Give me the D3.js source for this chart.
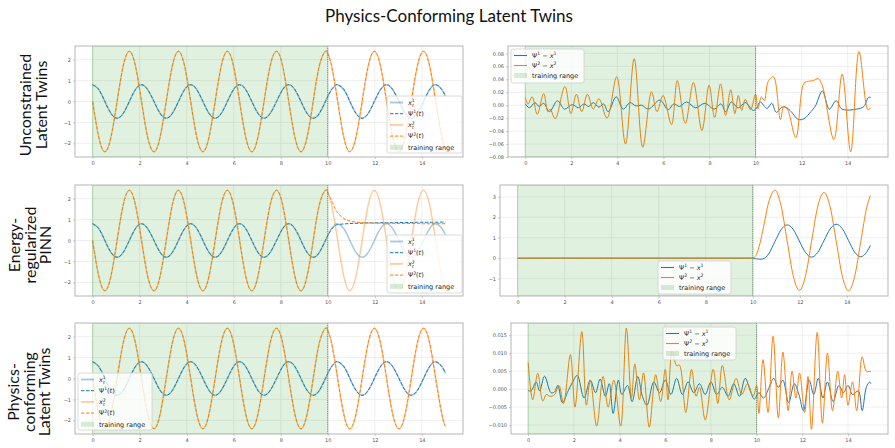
<!DOCTYPE html>
<html>
<head>
<meta charset="utf-8">
<script src="https://cdn.jsdelivr.net/npm/d3@7"></script>
<style>
  body { margin: 0; background: #fff; }
  svg { display: block; }
  .tick text { font-family: "DejaVu Sans", sans-serif; font-size: 5px; fill: #555; }
</style>
</head>
<body>
<div id="chart"></div>
<script>
// time grid (extrema / zero crossings, plus a few points around t = 10)
const tGrid = [0, 0.26, 0.52, 0.78, 1.04, 1.30, 1.56, 1.82, 2.08, 2.34, 2.61, 2.87, 3.13, 3.39, 3.65,
  3.91, 4.17, 4.43, 4.69, 4.95, 5.21, 5.47, 5.73, 5.99, 6.25, 6.51, 6.77, 7.03, 7.29, 7.55, 7.82,
  8.08, 8.34, 8.60, 8.86, 9.12, 9.38, 9.64, 9.90, 10.00, 10.05, 10.10, 10.16, 10.30, 10.42, 10.68,
  10.94, 11.20, 11.46, 11.72, 11.98, 12.24, 12.50, 12.76, 13.03, 13.29, 13.55, 13.81, 14.07, 14.33,
  14.59, 14.85, 15.00];

// ground truth x^1, x^2
const x1True = [0.8, 0.57, 0, -0.57, -0.8, -0.57, 0, 0.57, 0.8, 0.57, 0, -0.57, -0.8, -0.57, 0, 0.57,
  0.8, 0.57, 0, -0.57, -0.8, -0.57, 0, 0.57, 0.8, 0.57, 0, -0.57, -0.8, -0.57, 0, 0.57,
  0.8, 0.57, 0, -0.57, -0.8, -0.57, 0,
  0.24, 0.35, 0.455, 0.57, 0.75, 0.8, 0.57, 0, -0.57, -0.8, -0.57, 0, 0.57, 0.8, 0.57, 0, -0.57,
  -0.8, -0.57, 0, 0.57, 0.8, 0.57, 0.26];
const x2True = [0, -1.7, -2.4, -1.7, 0, 1.7, 2.4, 1.7, 0, -1.7, -2.4, -1.7, 0, 1.7, 2.4, 1.7,
  0, -1.7, -2.4, -1.7, 0, 1.7, 2.4, 1.7, 0, -1.7, -2.4, -1.7, 0, 1.7, 2.4, 1.7,
  0, -1.7, -2.4, -1.7, 0, 1.7, 2.4,
  2.29, 2.16, 1.97, 1.7, 0.85, 0, -1.7, -2.4, -1.7, 0, 1.7, 2.4, 1.7, 0, -1.7, -2.4, -1.7,
  0, 1.7, 2.4, 1.7, 0, -1.7, -2.27];

// energy-regularized PINN prediction from t = 10 on (before 10 it sits on the truth)
const pinnPsi1 = [0.24, 0.34, 0.43, 0.54, 0.70, 0.76, 0.79, 0.81, 0.82, 0.83, 0.84, 0.84, 0.85,
  0.85, 0.85, 0.86, 0.86, 0.86, 0.87, 0.87, 0.87, 0.87, 0.88, 0.88];
const pinnPsi2 = [2.29, 2.18, 2.06, 1.90, 1.55, 1.32, 1.05, 0.93, 0.88, 0.85, 0.84, 0.83, 0.82,
  0.82, 0.82, 0.81, 0.81, 0.81, 0.81, 0.80, 0.80, 0.80, 0.80, 0.80];

// unconstrained latent twins: errors [t, value]
const ucErr1 = [[0, 0.002], [0.18, -0.004], [0.42, 0.004], [0.6, -0.002], [0.8, 0.003], [1.05, -0.01],
  [1.4, 0.007], [1.7, -0.006], [2.05, 0.001], [2.3, -0.004], [2.55, 0.002], [2.75, -0.002], [2.95, 0.004],
  [3.2, -0.003], [3.4, 0.002], [3.6, -0.01], [3.95, 0.013], [4.25, -0.006], [4.55, 0.004], [4.8, -0.001],
  [5.05, 0], [5.35, -0.006], [5.85, 0.008], [6.2, -0.007], [6.45, 0.002], [6.7, -0.002], [7.0, 0.005],
  [7.4, -0.004], [7.8, 0.003], [8.2, -0.006], [8.5, 0.002], [8.7, -0.01], [8.95, 0.005], [9.25, -0.004],
  [9.55, 0.004], [9.9, -0.008], [10.05, -0.004], [10.2, 0.005], [10.5, -0.005], [10.7, 0.003],
  [10.9, -0.011], [11.15, -0.003], [11.35, -0.004], [11.55, -0.01], [11.85, -0.022], [12.1, -0.021],
  [12.4, -0.01], [12.6, -0.001], [12.9, 0.022], [13.2, -0.006], [13.5, 0.007], [13.75, -0.006],
  [14.4, -0.006], [14.7, -0.002], [14.9, 0.012], [15, 0.012]];
const ucErr2 = [[0, 0.012], [0.12, 0.002], [0.3, 0.013], [0.52, -0.014], [0.8, 0.018], [0.98, -0.01],
  [1.08, -0.006], [1.3, -0.021], [1.72, 0.029], [1.98, -0.013], [2.22, 0.017], [2.45, -0.01],
  [2.7, 0.017], [2.95, -0.006], [3.2, 0.01], [3.55, -0.02], [3.97, 0.044], [4.35, -0.06], [4.73, 0.072],
  [5.1, -0.065], [5.48, 0.021], [5.72, -0.01], [5.98, 0.015], [6.35, -0.03], [6.6, 0.038],
  [6.95, -0.028], [7.3, 0.035], [7.67, -0.039], [7.98, 0.031], [8.22, -0.019], [8.48, 0.033],
  [8.7, -0.016], [8.92, 0.024], [9.1, -0.013], [9.25, 0.015], [9.4, -0.008], [9.55, 0.009],
  [9.78, -0.007], [10.0, 0.017], [10.1, -0.006], [10.25, 0.013], [10.38, 0.007], [10.55, 0.037],
  [10.78, 0.044], [11.08, -0.022], [11.22, -0.002], [11.38, -0.006], [11.75, -0.05], [12.1, 0.034],
  [12.3, 0.037], [12.5, 0.038], [12.72, 0.041], [12.9, 0.03], [13.4, -0.053], [13.76, 0.048],
  [14.13, -0.072], [14.49, 0.083], [14.88, -0.007], [15, -0.004]];

// physics-conforming latent twins: errors [t, value]
const pcErr1 = [[0, -0.0003], [0.12, -0.0006], [0.35, 0.002], [0.5, -0.0005], [0.72, 0.0036],
  [1.0, -0.001], [1.15, -0.0008], [1.3, 0.001], [1.5, -0.0038], [1.75, -0.0005], [1.95, 0.002],
  [2.15, 0.0038], [2.45, -0.0025], [2.72, 0.0025], [2.95, -0.001], [3.15, 0.0028], [3.38, -0.002],
  [3.55, 0.0015], [3.72, -0.0068], [3.95, 0.0025], [4.1, -0.0015], [4.35, 0.001], [4.55, -0.0035],
  [4.8, 0.0035], [5.0, -0.002], [5.2, -0.0045], [5.5, 0.002], [5.75, -0.001], [6.0, 0.0025],
  [6.25, -0.0015], [6.5, 0.003], [6.75, -0.0015], [7.0, 0.002], [7.25, -0.001], [7.5, 0.0015],
  [7.75, -0.0015], [8.0, 0.002], [8.25, -0.0015], [8.5, 0.0005], [8.75, -0.002], [9.0, 0.0015],
  [9.25, -0.002], [9.5, 0.003], [9.75, -0.001], [9.9, -0.0028], [10.1, -0.001], [10.3, -0.0025],
  [10.55, 0.0005], [10.75, 0.003], [10.95, 0.0005], [11.15, 0.0025], [11.4, -0.0038], [11.65, 0.0015],
  [11.85, -0.0015], [12.05, -0.006], [12.3, 0.0025], [12.5, -0.0015], [12.7, 0.003], [12.9, -0.0025],
  [13.1, 0.002], [13.35, -0.0035], [13.6, 0.001], [13.8, -0.001], [14.0, 0.001], [14.2, -0.0015],
  [14.45, -0.0005], [14.62, -0.006], [14.8, 0.0005], [14.95, 0.002], [15, 0.0015]];
const pcErr2 = [[0, 0.0074], [0.2, -0.003], [0.42, 0.0044], [0.64, -0.0033], [0.8, -0.0015],
  [0.95, -0.002], [1.15, -0.0016], [1.35, 0.001], [1.55, -0.004], [1.85, 0.0096], [2.05, -0.005],
  [2.35, 0.016], [2.55, -0.0045], [2.72, 0.0025], [3.0, -0.0103], [3.28, 0.0035], [3.5, -0.005],
  [3.75, 0.0025], [4.05, -0.0103], [4.3, 0.017], [4.52, -0.0025], [4.67, 0.007], [4.87, -0.003],
  [5.05, 0.0045], [5.3, -0.0106], [5.58, 0.004], [5.8, -0.0035], [6.0, 0.0055], [6.12, -0.003],
  [6.3, 0.0105], [6.5, 0.0065], [6.62, 0.0067], [6.9, -0.0065], [7.15, 0.0055], [7.35, -0.002],
  [7.5, 0.0005], [7.75, -0.0086], [8.1, 0.0055], [8.3, -0.004], [8.5, 0.0066], [8.8, -0.003],
  [9.1, 0.003], [9.35, -0.0015], [9.6, 0.0015], [9.85, -0.002], [10.0, 0.001], [10.1, -0.0068],
  [10.28, 0.0082], [10.5, -0.0065], [10.72, 0.0147], [10.95, -0.008], [11.15, 0.0103], [11.38, -0.006],
  [11.55, 0.005], [11.72, -0.0025], [11.88, 0.0045], [12.1, -0.0065], [12.25, 0.0035], [12.4, -0.0112],
  [12.65, 0.0158], [12.88, -0.0095], [13.1, 0.01], [13.32, -0.006], [13.55, 0.005], [13.72, -0.0025],
  [13.85, 0.004], [14.0, -0.0045], [14.2, 0.002], [14.38, -0.006], [14.62, 0.009], [14.8, 0.005],
  [15, 0.005]];

const xTicks = [0, 2, 4, 6, 8, 10, 12, 14];
const leftYTicks = [-2, -1, 0, 1, 2];
const ucYTicks = [-0.08, -0.06, -0.04, -0.02, 0, 0.02, 0.04, 0.06, 0.08];
const pinnYTicks = [-1, 0, 1, 2, 3];
const pcYTicks = [-0.01, -0.005, 0, 0.005, 0.01, 0.015];

const BLUE = "#1f77b4", ORANGE = "#ff7f0e", GREEN = "#2ca02c";
const W = 895, H = 448;

const svg = d3.select("#chart").append("svg").attr("width", W).attr("height", H);
svg.append("rect").attr("width", W).attr("height", H).attr("fill", "#fff");

svg.append("text")
  .attr("x", 449).attr("y", 22)
  .attr("text-anchor", "middle")
  .style("font-family", "Lato, sans-serif")
  .style("font-size", "17px")
  .attr("fill", "#111")
  .text("Physics-Conforming Latent Twins");

// row titles
const rowLabels = [
  { cx: 31, cy: 105, lines: ["Unconstrained", "Latent Twins"] },
  { cx: 20, cy: 245, lines: ["Energy-", "regularized", "PINN"] },
  { cx: 19, cy: 392, lines: ["Physics-", "conforming", "Latent Twins"] }
];
rowLabels.forEach(r => {
  const t = svg.append("g").attr("transform", "translate(" + r.cx + "," + r.cy + ") rotate(-90)");
  r.lines.forEach((s, i) => {
    t.append("text").attr("x", 0).attr("y", i * 15.7)
      .attr("text-anchor", "middle")
      .style("font-family", "Lato, sans-serif")
      .style("font-size", "16px")
      .attr("fill", "#111")
      .text(s);
  });
});

let clipCount = 0;
function makePanel(x0, x1, y0, y1, yDomain, yTicks) {
  const w = x1 - x0, h = y1 - y0;
  const g = svg.append("g").attr("transform", "translate(" + x0 + "," + y0 + ")");
  const x = d3.scaleLinear().domain([-0.75, 15.75]).range([0, w]);
  const y = d3.scaleLinear().domain(yDomain).range([h, 0]);

  g.append("g").selectAll("line").data(xTicks).join("line")
    .attr("x1", d => x(d)).attr("x2", d => x(d)).attr("y1", 0).attr("y2", h)
    .attr("stroke", "#ebebeb").attr("stroke-width", 0.8);
  g.append("g").selectAll("line").data(yTicks).join("line")
    .attr("y1", d => y(d)).attr("y2", d => y(d)).attr("x1", 0).attr("x2", w)
    .attr("stroke", "#ebebeb").attr("stroke-width", 0.8);

  const id = "clip" + clipCount++;
  g.append("clipPath").attr("id", id).append("rect").attr("width", w).attr("height", h);
  const plot = g.append("g").attr("clip-path", "url(#" + id + ")");
  return { g, plot, x, y, w, h, yTicks };
}

function finishPanel(p, fmt) {
  // training range on top of the curves
  p.plot.append("rect")
    .attr("x", p.x(0)).attr("y", 0)
    .attr("width", p.x(10) - p.x(0)).attr("height", p.h)
    .attr("fill", GREEN).attr("fill-opacity", 0.15)
    .attr("stroke", GREEN).attr("stroke-opacity", 0.3).attr("stroke-width", 1);
  p.g.append("line")
    .attr("x1", p.x(10)).attr("x2", p.x(10)).attr("y1", 0).attr("y2", p.h)
    .attr("stroke", "#555").attr("stroke-width", 0.7).attr("stroke-dasharray", "0.8,1.4");
  p.g.append("rect").attr("width", p.w).attr("height", p.h)
    .attr("fill", "none").attr("stroke", "#b5b5b5").attr("stroke-width", 1);

  p.g.append("g").attr("transform", "translate(0," + p.h + ")")
    .call(d3.axisBottom(p.x).tickValues(xTicks).tickSize(2).tickPadding(2).tickFormat(d3.format("d")))
    .call(a => a.select(".domain").remove())
    .call(a => a.selectAll(".tick line").attr("stroke", "#aaa").attr("stroke-width", 0.6));
  p.g.append("g")
    .call(d3.axisLeft(p.y).tickValues(p.yTicks).tickSize(2).tickPadding(2).tickFormat(d3.format(fmt)))
    .call(a => a.select(".domain").remove())
    .call(a => a.selectAll(".tick line").attr("stroke", "#aaa").attr("stroke-width", 0.6));
}

const iTrain = tGrid.indexOf(10);
const truth1 = tGrid.map((t, i) => [t, x1True[i]]);
const truth2 = tGrid.map((t, i) => [t, x2True[i]]);
const pinn1 = tGrid.map((t, i) => [t, i < iTrain ? x1True[i] : pinnPsi1[i - iTrain]]);
const pinn2 = tGrid.map((t, i) => [t, i < iTrain ? x2True[i] : pinnPsi2[i - iTrain]]);

function drawStates(p, psi1, psi2) {
  const ln = d3.line().x(d => p.x(d[0])).y(d => p.y(d[1])).curve(d3.curveNatural);
  p.plot.append("path").datum(truth1).attr("d", ln)
    .attr("fill", "none").attr("stroke", BLUE).attr("stroke-width", 1.5).attr("stroke-opacity", 0.4);
  p.plot.append("path").datum(psi1).attr("d", ln)
    .attr("fill", "none").attr("stroke", BLUE).attr("stroke-width", 1).attr("stroke-dasharray", "3.5,1.5");
  p.plot.append("path").datum(truth2).attr("d", ln)
    .attr("fill", "none").attr("stroke", ORANGE).attr("stroke-width", 1.5).attr("stroke-opacity", 0.4);
  p.plot.append("path").datum(psi2).attr("d", ln)
    .attr("fill", "none").attr("stroke", ORANGE).attr("stroke-width", 1).attr("stroke-dasharray", "3.5,1.5");
}

function drawErrors(p, e1, e2, curve) {
  const ln = d3.line().x(d => p.x(d[0])).y(d => p.y(d[1])).curve(curve);
  p.plot.append("path").datum(e1).attr("d", ln)
    .attr("fill", "none").attr("stroke", BLUE).attr("stroke-width", 1);
  p.plot.append("path").datum(e2).attr("d", ln)
    .attr("fill", "none").attr("stroke", ORANGE).attr("stroke-width", 1);
}

const rows = [[46, 157], [185, 296], [323, 434]];
const leftDomain = [-2.65, 2.65];
const smooth = d3.curveCatmullRom.alpha(0.5);

// row 1
const l1 = makePanel(75, 463, rows[0][0], rows[0][1], leftDomain, leftYTicks);
drawStates(l1, truth1, truth2); // predictions follow the truth to within a line width
finishPanel(l1, "d");
const r1 = makePanel(508, 888, rows[0][0], rows[0][1], [-0.08, 0.0915], ucYTicks);
drawErrors(r1, ucErr1, ucErr2, smooth);
finishPanel(r1, ".2f");

// row 2
const l2 = makePanel(75, 463, rows[1][0], rows[1][1], leftDomain, leftYTicks);
drawStates(l2, pinn1, pinn2);
finishPanel(l2, "d");
const r2 = makePanel(500, 888, rows[1][0], rows[1][1], [-1.85, 3.58], pinnYTicks);
drawErrors(r2,
  tGrid.map((t, i) => [t, pinn1[i][1] - x1True[i]]),
  tGrid.map((t, i) => [t, pinn2[i][1] - x2True[i]]),
  d3.curveMonotoneX);
finishPanel(r2, "d");

// row 3
const l3 = makePanel(75, 463, rows[2][0], rows[2][1], leftDomain, leftYTicks);
drawStates(l3, truth1, truth2);
finishPanel(l3, "d");
const r3 = makePanel(511, 888, rows[2][0], rows[2][1], [-0.0125, 0.0184], pcYTicks);
drawErrors(r3, pcErr1, pcErr2, smooth);
finishPanel(r3, ".3f");

// legends
const FS = 6.5, SS = 4.6;
function richText(sel, segs) {
  let shift = 0;
  segs.forEach(s => {
    const target = s.sup ? -2.6 : s.sub ? 1.8 : 0;
    const ts = sel.append("tspan").text(s.t)
      .attr("dy", target - shift)
      .style("font-size", (s.sup || s.sub ? SS : FS) + "px");
    if (s.it) ts.style("font-style", "italic");
    if (s.dx) ts.attr("dx", s.dx);
    shift = target;
  });
}
const labX1 = [{ t: "x", it: 1 }, { t: "1", sup: 1 }, { t: "t", it: 1, sub: 1, dx: -2.9 }];
const labX2 = [{ t: "x", it: 1 }, { t: "2", sup: 1 }, { t: "t", it: 1, sub: 1, dx: -2.9 }];
const labP1 = [{ t: "Ψ" }, { t: "1", sup: 1 }, { t: "(" }, { t: "t", it: 1 }, { t: ")" }];
const labP2 = [{ t: "Ψ" }, { t: "2", sup: 1 }, { t: "(" }, { t: "t", it: 1 }, { t: ")" }];
const labE1 = [{ t: "Ψ" }, { t: "1", sup: 1 }, { t: " − " }, { t: "x", it: 1 }, { t: "1", sup: 1 }];
const labE2 = [{ t: "Ψ" }, { t: "2", sup: 1 }, { t: " − " }, { t: "x", it: 1 }, { t: "2", sup: 1 }];
const labTR = [{ t: "training range" }];

const stateItems = [
  { kind: "light", color: BLUE, lab: labX1 },
  { kind: "dash", color: BLUE, lab: labP1 },
  { kind: "light", color: ORANGE, lab: labX2 },
  { kind: "dash", color: ORANGE, lab: labP2 },
  { kind: "patch", color: GREEN, lab: labTR }
];
const errItems = [
  { kind: "solid", color: BLUE, lab: labE1 },
  { kind: "solid", color: ORANGE, lab: labE2 },
  { kind: "patch", color: GREEN, lab: labTR }
];

function legend(x0, y0, w, h, items, step) {
  const g = svg.append("g").attr("transform", "translate(" + x0 + "," + y0 + ")");
  g.append("rect").attr("width", w).attr("height", h).attr("rx", 2)
    .attr("fill", "#fff").attr("fill-opacity", 0.8)
    .attr("stroke", "#d0d0d0").attr("stroke-width", 0.8);
  items.forEach((it, i) => {
    const cy = 6.5 + i * step;
    if (it.kind === "patch") {
      g.append("rect").attr("x", 3).attr("y", cy - 2.5).attr("width", 13).attr("height", 5)
        .attr("fill", it.color).attr("fill-opacity", 0.2);
    } else {
      const l = g.append("line").attr("x1", 3).attr("x2", 16).attr("y1", cy).attr("y2", cy)
        .attr("stroke", it.color);
      if (it.kind === "light") l.attr("stroke-width", 1.8).attr("stroke-opacity", 0.4);
      if (it.kind === "dash") l.attr("stroke-width", 1).attr("stroke-dasharray", "3.5,1.5");
      if (it.kind === "solid") l.attr("stroke-width", 1.1);
    }
    const t = g.append("text").attr("x", 21).attr("y", cy + 2.3)
      .style("font-family", "'DejaVu Sans', sans-serif").attr("fill", "#222");
    richText(t, it.lab);
  });
}

legend(387, 96, 75, 57, stateItems, 11.2);
legend(387, 235, 75, 58, stateItems, 11.2);
legend(78, 373, 74, 57, stateItems, 11.2);
legend(511, 49, 73, 34, errItems, 10);
legend(658, 261, 73, 33, errItems, 10);
legend(663, 327, 73, 33, errItems, 10);
</script>
</body>
</html>
